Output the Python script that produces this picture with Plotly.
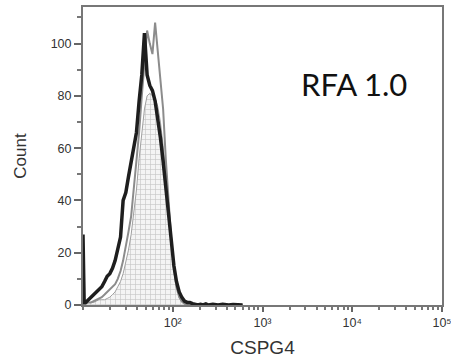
import plotly.graph_objects as go

# CSPG4 fluorescence channel values (bin centres)
cspg4 = [10.0, 10.3, 10.7, 11.5, 12.3, 13.2, 14.1, 15.1, 16.2, 17.4, 18.6, 19.9,
         21.3, 22.8, 24.4, 26.2, 28.0, 30.0, 32.1, 34.4, 36.8, 39.4, 42.2,
         45.2, 48.4, 51.8, 55.5, 59.4, 63.6, 68.1, 72.9, 78.1, 83.6, 89.5,
         95.8, 103, 110, 118, 126, 135, 145, 155, 166, 178, 190, 204, 218,
         234, 250, 280, 320, 360, 420, 470, 520, 600]

# control (stippled filled histogram)
count_control = [0, 0, 0.5, 1, 1, 1, 1.5, 2, 2, 2, 2.5, 3,
                 4, 5, 7, 9, 12, 16, 21, 27, 35, 44, 56,
                 67, 75, 80, 81, 80, 79, 76, 70, 61, 50, 38,
                 26, 15, 7, 3, 1, 0.5, 0, 0, 0, 0, 0, 0, 0,
                 0, 0, 0, 0, 0, 0, 0, 0, 0]

# RFA 1.0 sample (thick black line)
count_black = [27, 1, 1, 2, 3, 4, 5, 6, 7, 9, 11, 12,
               14, 17, 21, 26, 40, 43, 49, 55, 60, 66, 78,
               88, 104, 88, 84, 82, 78, 72, 64, 55, 45, 35,
               24, 15, 9, 5, 3, 1.5, 1, 1, 0.5, 0.3, 0, 0.3, 0,
               0.4, 0, 0.3, 0, 0.3, 0, 0.2, 0, 0]

# second sample (grey line)
count_grey = [0, 0, 0.5, 1, 1, 1.5, 2, 2.5, 3, 4, 5, 6,
              7, 8, 10, 13, 17, 22, 28, 34, 44, 55, 66,
              80, 92, 105, 100, 96, 108, 97, 88, 75, 56, 40,
              26, 14, 7, 3, 1.5, 0.5, 0, 0, 0, 0, 0, 0, 0,
              0, 0, 0, 0, 0, 0, 0, 0, 0]

x_tickvals = [100, 1000, 10000, 100000]
x_ticktext = ["10²", "10³", "10⁴", "10⁵"]
y_tickvals = [0, 20, 40, 60, 80, 100]

fig = go.Figure()
fig.add_trace(go.Scatter(
    x=cspg4, y=count_control, mode="lines", fill="tozeroy",
    line=dict(color="#a0a0a0", width=1),
    fillcolor="rgba(255,255,255,0)",
    fillpattern=dict(shape="+", fgcolor="#9a9a9a", bgcolor="#f4f4f4",
                     size=5, solidity=0.25),
    showlegend=False))
fig.add_trace(go.Scatter(
    x=cspg4, y=count_grey, mode="lines",
    line=dict(color="#8c8c8c", width=2), showlegend=False))
fig.add_trace(go.Scatter(
    x=cspg4, y=count_black, mode="lines",
    line=dict(color="#1e1e1e", width=3.5), showlegend=False))

fig.add_annotation(text="RFA 1.0", x=0.755, y=0.74, xref="paper", yref="paper",
                   showarrow=False, xanchor="center", yanchor="middle",
                   font=dict(family="Lato, Open Sans, sans-serif", size=31, color="#111"))

axis_font = dict(family="Liberation Sans, Arial, sans-serif", size=12.5, color="#333")
fig.update_xaxes(
    type="log", range=[1, 5], automargin=False, ticklabeloverflow="allow",
    tickmode="array", tickvals=x_tickvals, ticktext=x_ticktext,
    ticks="outside", ticklen=5, tickwidth=1.5, tickcolor="#666",
    minor=dict(ticks="outside", ticklen=3, tickcolor="#777", dtick="D1"),
    showline=True, linecolor="#777", linewidth=2, mirror=True,
    showgrid=False, zeroline=False, tickfont=axis_font,
    title=dict(text="CSPG4", font=dict(family="Liberation Sans, Arial, sans-serif",
                                       size=19, color="#333"), standoff=12))
fig.update_yaxes(
    range=[0, 114], automargin=False,
    tickmode="array", tickvals=y_tickvals,
    ticks="outside", ticklen=7, tickwidth=1.5, tickcolor="#666",
    minor=dict(ticks="outside", ticklen=4, tickcolor="#777", dtick=10, tick0=0),
    showline=True, linecolor="#777", linewidth=2, mirror=True,
    showgrid=False, zeroline=False, tickfont=axis_font,
    title=dict(text="Count", font=dict(family="Liberation Sans, Arial, sans-serif",
                                       size=17, color="#333"), standoff=20))

fig.update_layout(
    width=451, height=362,
    margin=dict(l=83, r=9, t=7, b=57),
    plot_bgcolor="white", paper_bgcolor="white",
)
fig.write_html("out.html")
